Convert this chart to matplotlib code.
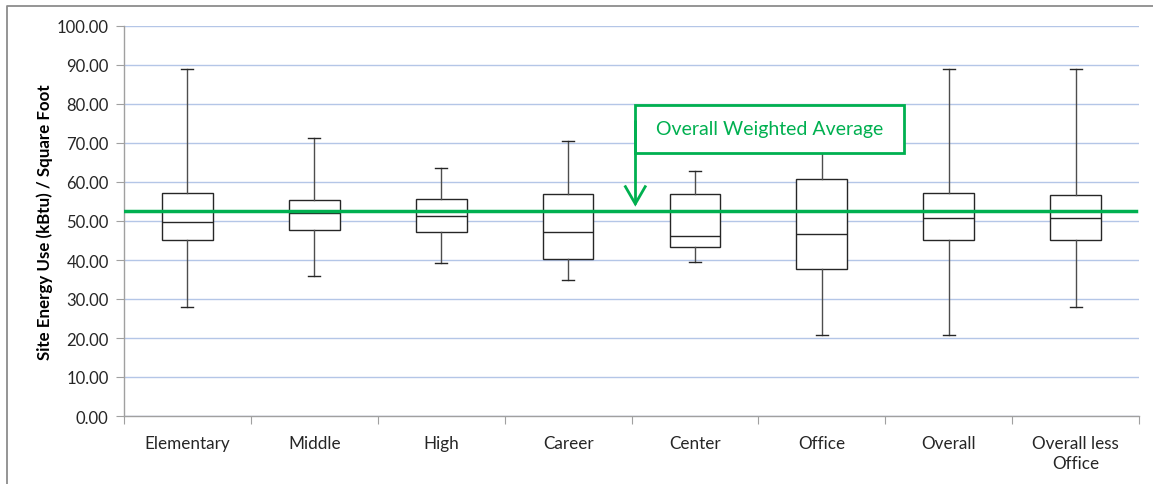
import matplotlib
matplotlib.use("Agg")
import matplotlib.pyplot as plt
from matplotlib.lines import Line2D
from matplotlib.patches import Rectangle

categories = ["Elementary", "Middle", "High", "Career", "Center", "Office", "Overall", "Overall less\nOffice"]
whisker_low = [28.0, 35.8, 39.2, 34.8, 39.4, 20.8, 20.8, 27.9]
q1 = [45.2, 47.7, 47.3, 40.3, 43.3, 37.6, 45.2, 45.2]
median = [49.8, 52.0, 51.4, 47.2, 46.1, 46.7, 50.7, 50.7]
q3 = [57.2, 55.5, 55.6, 56.8, 56.8, 60.7, 57.2, 56.6]
whisker_high = [89.0, 71.4, 63.5, 70.4, 62.8, 70.0, 89.0, 89.0]
weighted_average = 52.6
y_ticks = [0, 10, 20, 30, 40, 50, 60, 70, 80, 90, 100]

plt.rcParams['font.family'] = ['Lato', 'DejaVu Sans']

W, H = 1153, 485
fig = plt.figure(figsize=(W / 100, H / 100), dpi=100)
ax = fig.add_axes([124 / W, 1 - 417 / H, (1139 - 124) / W, (417 - 27) / H])

# outer chart frame (left and top edges visible)
fig.add_artist(Line2D([6.5 / W, 6.5 / W, 1.0], [0.0, 1 - 6.5 / H, 1 - 6.5 / H],
                      transform=fig.transFigure, color='#8c8c8c', linewidth=1.3))

stats = []
for i, c in enumerate(categories):
    stats.append(dict(label=c, whislo=whisker_low[i], q1=q1[i], med=median[i],
                      q3=q3[i], whishi=whisker_high[i], fliers=[]))

positions = [i + 0.5 for i in range(len(categories))]
ax.bxp(stats, positions=positions, widths=0.4, capwidths=0.095, showfliers=False,
       patch_artist=True,
       boxprops=dict(facecolor='white', edgecolor='#262626', linewidth=1.0),
       medianprops=dict(color='#262626', linewidth=1.0),
       whiskerprops=dict(color='#4d4d4d', linewidth=1.0),
       capprops=dict(color='#262626', linewidth=1.0),
       zorder=3)

ax.axhline(weighted_average, xmin=0.0, xmax=0.997, color='#00b050', linewidth=2.5, zorder=4)

ax.set_xlim(0, len(categories))
ax.set_ylim(0, 100)
ax.set_yticks(y_ticks)
ax.set_yticklabels([f"{v:.2f}" for v in y_ticks], fontsize=12, color='#262626')
ax.set_xticks(range(len(categories) + 1))
ax.set_xticklabels([])
ax.set_xticks(positions, minor=True)
ax.set_xticklabels(categories, minor=True, fontsize=12.3, color='#262626', linespacing=1.3)
ax.tick_params(axis='x', which='minor', length=0, pad=14)
ax.tick_params(axis='x', which='major', length=6, color='#a0a0a0', direction='out')
ax.tick_params(axis='y', length=6, color='#a0a0a0', direction='out', pad=5)

ax.grid(axis='y', color='#b4c6e7', linewidth=1.0, zorder=0)
ax.set_axisbelow(True)
for s in ['top', 'right']:
    ax.spines[s].set_visible(False)
for s in ['left', 'bottom']:
    ax.spines[s].set_color('#a0a0a0')
    ax.spines[s].set_linewidth(1.0)

ax.set_ylabel("Site Energy Use (kBtu) / Square Foot", fontsize=12.2, fontweight='bold',
              color='black', labelpad=3)

# annotation callout
green = '#00b050'
box_x0, box_x1, box_y0, box_y1 = 4.03, 6.145, 67.4, 79.7
ax.add_patch(Rectangle((box_x0, box_y0), box_x1 - box_x0, box_y1 - box_y0,
                       facecolor='white', edgecolor=green, linewidth=2.0, zorder=6))
ax.text((box_x0 + box_x1) / 2, (box_y0 + box_y1) / 2 + 0.2, "Overall Weighted Average",
        ha='center', va='center', fontsize=14, color=green, zorder=7)
arrow_top, arrow_tip, head_dy, head_dx = 76.0, 54.4, 4.4, 0.078
ax.plot([box_x0, box_x0], [arrow_top, arrow_tip], color=green, linewidth=2.0,
        solid_capstyle='butt', zorder=7)
ax.plot([box_x0 - head_dx, box_x0, box_x0 + head_dx],
        [arrow_tip + head_dy, arrow_tip, arrow_tip + head_dy],
        color=green, linewidth=2.0, solid_joinstyle='miter', zorder=7)

fig.savefig("out.png", dpi=100)
